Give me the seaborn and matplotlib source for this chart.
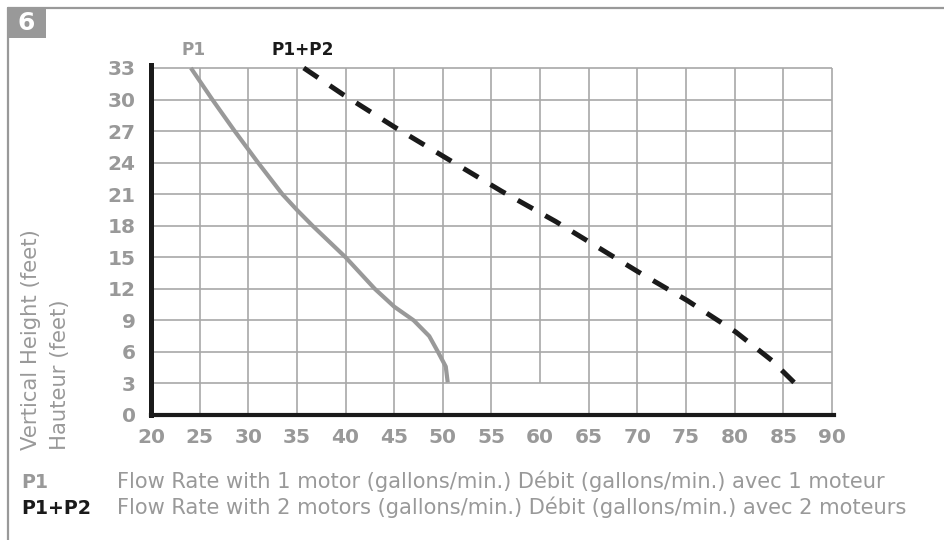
import matplotlib
matplotlib.use("Agg")
import matplotlib.pyplot as plt
from matplotlib.patches import Rectangle
from matplotlib.lines import Line2D
import seaborn as sns
import pandas as pd
import numpy as np

# ---- data ----
x_ticks = [20, 25, 30, 35, 40, 45, 50, 55, 60, 65, 70, 75, 80, 85, 90]
y_ticks = [0, 3, 6, 9, 12, 15, 18, 21, 24, 27, 30, 33]

p1_flow = [24.1, 26.3, 28.6, 31.0, 33.5, 35.0, 36.6, 40.0, 43.0, 45.0, 47.0, 48.6, 49.5, 50.3, 50.5]
p1_height = [33, 30, 27, 24, 21, 19.5, 18, 15, 12, 10.3, 9, 7.5, 6, 4.6, 3.1]

p12_flow = [35.7, 39.7, 45.0, 50.4, 56.0, 61.6, 70.1, 75.1, 80.1, 83.8, 86.1]
p12_height = [33, 30.5, 27.4, 24.4, 21.3, 18.4, 13.6, 10.9, 7.9, 5.2, 3.1]

label_p1 = "P1"
label_p12 = "P1+P2"
desc_p1 = "Flow Rate with 1 motor (gallons/min.) Débit (gallons/min.) avec 1 moteur"
desc_p12 = "Flow Rate with 2 motors (gallons/min.) Débit (gallons/min.) avec 2 moteurs"
ylabel_1 = "Vertical Height (feet)"
ylabel_2 = "Hauteur (feet)"
badge = "6"

# ---- style ----
sns.set_theme(style="white")
plt.rcParams["font.family"] = ["DejaVu Sans"]

GRAY = "#999999"
GRID = "#a8a8a8"
BLACK = "#1a1a1a"
W, H = 945, 540

fig = plt.figure(figsize=(9.45, 5.4), dpi=100)
fig.patch.set_facecolor("white")
renderer = fig.canvas.get_renderer()


def fx(px):
    return px / W


def fy(py):
    return 1 - py / H


def fit(texts, target_px, vertical=False):
    """Scale a group of texts so that the first one spans target_px."""
    bb = texts[0].get_window_extent(renderer)
    cur = bb.height if vertical else bb.width
    k = target_px / cur
    for t in texts:
        t.set_fontsize(t.get_fontsize() * k)


ax = fig.add_axes([fx(151), fy(415), (834.9 - 151) / W, (415 - 64.8) / H])
ax.set_facecolor("white")
ax.set_xlim(20, 90.3)
ax.set_ylim(0, 33.3)

# grid
ymins = [3 if x == 60 else 0 for x in x_ticks]
ax.vlines(x_ticks[1:], ymins[1:], 33, color=GRID, lw=1.2, zorder=1)
ax.hlines(y_ticks[1:], 20, 90, color=GRID, lw=1.2, zorder=1)

df1 = pd.DataFrame({"flow": p1_flow, "height": p1_height})
df2 = pd.DataFrame({"flow": p12_flow, "height": p12_height})
sns.lineplot(data=df1, x="flow", y="height", color=GRAY, lw=3.0, ax=ax,
             sort=False, zorder=3, solid_capstyle="butt", solid_joinstyle="round")
sns.lineplot(data=df2, x="flow", y="height", color=BLACK, lw=3.6, ax=ax,
             sort=False, zorder=3, dash_capstyle="butt")
dash_line = ax.lines[-1]

# choose a dash pattern so that the dashed line starts and ends with a dash
pts = ax.transData.transform(np.column_stack([p12_flow, p12_height]))
L = np.sum(np.hypot(*np.diff(pts, axis=0).T))          # path length, px
lw_px = 3.6 * 100 / 72
on_frac = 0.55
period = 31.5
n = max(1, round((L - on_frac * period) / period))
period = L / (n + on_frac)
dash_line.set_linestyle((0, (on_frac * period / lw_px, (1 - on_frac) * period / lw_px)))

for s in ["top", "right"]:
    ax.spines[s].set_visible(False)
ax.spines["left"].set_color(BLACK)
ax.spines["left"].set_linewidth(3.6)
ax.spines["bottom"].set_color(BLACK)
ax.spines["bottom"].set_linewidth(3.0)
ax.spines["bottom"].set_bounds(20, 90.2)

ax.set_xticks(x_ticks)
ax.set_yticks(y_ticks)
ax.set_xticklabels([str(v) for v in x_ticks])
ax.set_yticklabels([str(v) for v in y_ticks])
ax.tick_params(axis="both", length=0, labelsize=14.5, labelcolor=GRAY)
ax.tick_params(axis="y", pad=11)
ax.tick_params(axis="x", pad=9.5)
for t in ax.get_xticklabels() + ax.get_yticklabels():
    t.set_fontweight("bold")
ax.set_xlabel("")
ax.set_ylabel("")
ax.grid(False)

# y label (two lines)
yl1 = fig.text(fx(37), fy(450), ylabel_1, rotation=90, rotation_mode="anchor",
               ha="left", va="baseline", fontsize=14, color=GRAY)
yl2 = fig.text(fx(66), fy(450), ylabel_2, rotation=90, rotation_mode="anchor",
               ha="left", va="baseline", fontsize=14, color=GRAY)
fit([yl1, yl2], 221, vertical=True)

# series labels above plot
t1 = fig.text(fx(194), fy(55), label_p1, ha="center", va="baseline", fontsize=13,
              fontweight="bold", color=GRAY)
t2 = fig.text(fx(303), fy(55), label_p12, ha="center", va="baseline", fontsize=13,
              fontweight="bold", color=BLACK)
fit([t2, t1], 62)

# frame and badge
fig.add_artist(Line2D([fx(8), 1], [fy(8), fy(8)], color=GRAY, lw=1.6))
fig.add_artist(Line2D([fx(8), fx(8)], [fy(8), 0], color=GRAY, lw=1.6))
fig.add_artist(Rectangle((fx(8), fy(38)), 38 / W, 30 / H, color=GRAY, lw=0))
fig.text(fx(26.5), fy(23.5), badge, ha="center", va="center", fontsize=18,
         fontweight="bold", color="white")

# bottom legend
b1 = fig.text(fx(21.7), fy(488), label_p1, ha="left", va="baseline", fontsize=13.5,
              fontweight="bold", color=GRAY)
b2 = fig.text(fx(21.7), fy(514), label_p12, ha="left", va="baseline", fontsize=13.5,
              fontweight="bold", color=BLACK)
fit([b2, b1], 70)
d1 = fig.text(fx(116.7), fy(488), desc_p1, ha="left", va="baseline", fontsize=14.5,
              color=GRAY)
d2 = fig.text(fx(116.7), fy(514), desc_p12, ha="left", va="baseline", fontsize=14.5,
              color=GRAY)
fit([d1, d2], 773)

fig.savefig("out.png", dpi=100, facecolor="white")
